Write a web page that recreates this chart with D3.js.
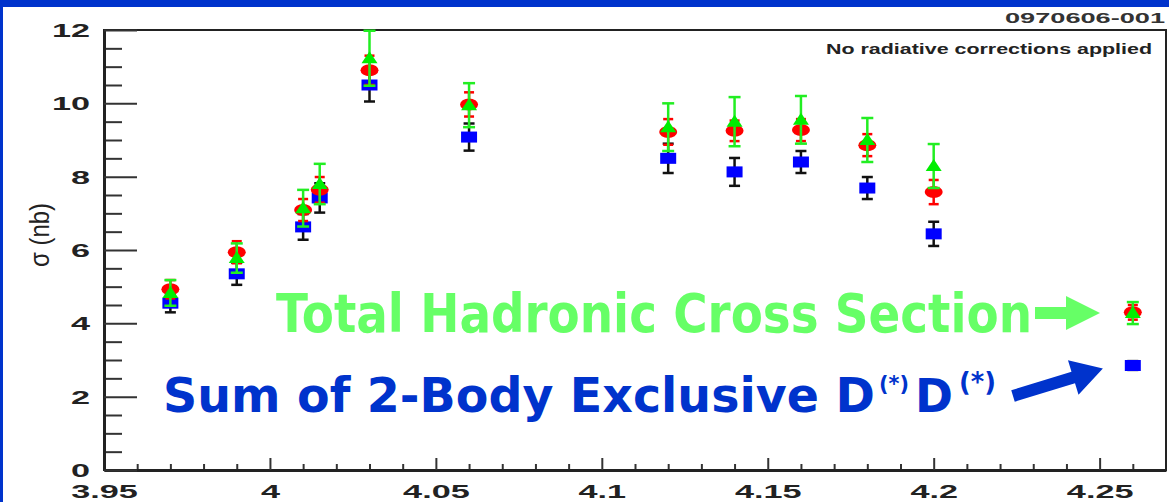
<!DOCTYPE html>
<html>
<head>
<meta charset="utf-8">
<script src="https://cdn.jsdelivr.net/npm/d3@7"></script>
<style>
  body { margin: 0; background: #fff; }
  svg { display: block; }
</style>
</head>
<body>
<div class="visContainer"></div>
<script>
// Data.
const energies = [3.97, 3.99, 4.01, 4.015, 4.03, 4.06, 4.12, 4.14, 4.16, 4.18, 4.2, 4.26];
const totalHadronic = [4.83, 5.78, 7.14, 7.8, 11.23, 9.95, 9.35, 9.5, 9.55, 9.0, 8.29, 4.28];
const totalErr = [0.35, 0.4, 0.5, 0.55, 0.75, 0.6, 0.65, 0.67, 0.65, 0.6, 0.6, 0.3];
const redValues = [4.93, 5.94, 7.09, 7.64, 10.9, 9.97, 9.22, 9.25, 9.27, 8.86, 7.58, 4.3];
const redErr = [0.25, 0.3, 0.3, 0.35, 0.4, 0.33, 0.35, 0.28, 0.3, 0.3, 0.33, 0.2];
const exclusiveSum = [4.55, 5.35, 6.63, 7.42, 10.5, 9.08, 8.5, 8.13, 8.4, 7.69, 6.44, 2.85];
const exclusiveErr = [0.25, 0.3, 0.35, 0.4, 0.45, 0.37, 0.4, 0.38, 0.3, 0.3, 0.33, 0.12];

const xTicks = [3.95, 4, 4.05, 4.1, 4.15, 4.2, 4.25];
const xTickLabels = ['3.95', '4', '4.05', '4.1', '4.15', '4.2', '4.25'];
const yTicks = [0, 2, 4, 6, 8, 10, 12];

// SVG constants.
const width = 1169;
const height = 502;
const plotLeft = 104, plotRight = 1166, plotTop = 30, plotBottom = 470;

const xScale = d3.scaleLinear().domain([3.95, 4.27]).range([plotLeft, plotRight]);
const yScale = d3.scaleLinear().domain([0, 12]).range([plotBottom, plotTop]);

const svg = d3.select('.visContainer')
              .append('svg')
              .attr('width', width)
              .attr('height', height);

// Blue slide border.
svg.append('rect').attr('width', width).attr('height', height).attr('fill', '#0033cc');
svg.append('rect').attr('x', 3).attr('y', 7).attr('width', width - 3).attr('height', height - 7).attr('fill', '#fff');

// Frame.
svg.append('rect')
   .attr('x', plotLeft).attr('y', plotTop)
   .attr('width', plotRight - plotLeft).attr('height', plotBottom - plotTop)
   .attr('fill', 'none').attr('stroke', '#222').attr('stroke-width', 2);

// Minor ticks.
const xMinor = d3.range(3.96, 4.27, 0.01).filter(v => !xTicks.some(t => Math.abs(t - v) < 1e-6));
const yMinor = d3.range(0.5, 12, 0.5).filter(v => v % 2 !== 0);

svg.append('g')
   .attr('transform', 'translate(0,' + plotBottom + ')')
   .call(d3.axisBottom(xScale).tickValues(xMinor).tickSize(-6).tickFormat('').tickSizeOuter(0))
   .call(g => g.select('.domain').remove())
   .selectAll('line').attr('stroke', '#333').attr('stroke-width', 2);

svg.append('g')
   .attr('transform', 'translate(' + plotLeft + ',0)')
   .call(d3.axisLeft(yScale).tickValues(yMinor).tickSize(-18).tickFormat('').tickSizeOuter(0))
   .call(g => g.select('.domain').remove())
   .selectAll('line').attr('stroke', '#333').attr('stroke-width', 2);

// Major axes.
const xAxis = svg.append('g')
   .attr('id', 'x-axis')
   .attr('transform', 'translate(0,' + plotBottom + ')')
   .call(d3.axisBottom(xScale).tickValues(xTicks).tickSize(-12).tickPadding(15).tickSizeOuter(0)
           .tickFormat((d, i) => xTickLabels[i]));

const yAxis = svg.append('g')
   .attr('id', 'y-axis')
   .attr('transform', 'translate(' + plotLeft + ',0)')
   .call(d3.axisLeft(yScale).tickValues(yTicks).tickSize(-33).tickPadding(14).tickSizeOuter(0)
           .tickFormat(d3.format('d')));

[xAxis, yAxis].forEach(g => {
  g.select('.domain').attr('stroke', '#222').attr('stroke-width', 3);
  g.selectAll('line').attr('stroke', '#333').attr('stroke-width', 2);
  g.selectAll('text')
   .attr('font-family', 'Liberation Sans, Arial, sans-serif')
   .attr('font-weight', 'bold')
   .attr('font-size', 18)
   .attr('fill', '#222')
   .each(function() {
     const w = this.getComputedTextLength();
     d3.select(this).attr('textLength', w * 1.9).attr('lengthAdjust', 'spacingAndGlyphs');
   });
});
yAxis.selectAll('text').attr('dy', '0.36em');

// Y axis title.
svg.append('text')
   .attr('transform', 'translate(49,235) rotate(-90)')
   .attr('text-anchor', 'middle')
   .attr('font-family', 'Liberation Sans, Arial, sans-serif')
   .attr('font-size', 28)
   .attr('fill', '#222')
   .attr('textLength', 64)
   .attr('lengthAdjust', 'spacingAndGlyphs')
   .text('σ (nb)');

// Corner labels.
svg.append('text')
   .attr('x', 1165).attr('y', 23)
   .attr('text-anchor', 'end')
   .attr('font-family', 'Liberation Sans, Arial, sans-serif')
   .attr('font-weight', 'bold').attr('font-size', 15).attr('fill', '#333')
   .attr('textLength', 160).attr('lengthAdjust', 'spacingAndGlyphs')
   .text('0970606-001');

svg.append('text')
   .attr('x', 1152).attr('y', 54)
   .attr('text-anchor', 'end')
   .attr('font-family', 'Liberation Sans, Arial, sans-serif')
   .attr('font-weight', 'bold').attr('font-size', 14).attr('fill', '#222')
   .attr('textLength', 326).attr('lengthAdjust', 'spacingAndGlyphs')
   .text('No radiative corrections applied');

// Points.
const points = energies.map((e, i) => ({
  e: e,
  tot: totalHadronic[i], totE: totalErr[i],
  red: redValues[i], redE: redErr[i],
  exc: exclusiveSum[i], excE: exclusiveErr[i]
}));

function errorBars(key, errKey, color, cap, sw) {
  const g = svg.append('g').attr('stroke', color).attr('stroke-width', sw);
  g.selectAll('line.v').data(points).enter().append('line')
   .attr('x1', d => xScale(d.e)).attr('x2', d => xScale(d.e))
   .attr('y1', d => yScale(Math.min(12, d[key] + d[errKey])))
   .attr('y2', d => yScale(d[key] - d[errKey]));
  [1, -1].forEach(s => {
    g.selectAll('line.c' + s).data(points.filter(d => d[key] + s * d[errKey] <= 12)).enter().append('line')
     .attr('x1', d => xScale(d.e) - cap / 2).attr('x2', d => xScale(d.e) + cap / 2)
     .attr('y1', d => yScale(d[key] + s * d[errKey]))
     .attr('y2', d => yScale(d[key] + s * d[errKey]));
  });
}

// Exclusive sum: blue squares with black bars.
errorBars('exc', 'excE', '#111', 11, 2.5);
svg.append('g').selectAll('rect').data(points).enter().append('rect')
   .attr('x', d => xScale(d.e) - 8).attr('y', d => yScale(d.exc) - 5.5)
   .attr('width', 16).attr('height', 11)
   .attr('fill', '#0000ff');

// Red circles.
errorBars('red', 'redE', '#ff0000', 10, 2.5);
svg.append('g').selectAll('ellipse').data(points).enter().append('ellipse')
   .attr('cx', d => xScale(d.e)).attr('cy', d => yScale(d.red))
   .attr('rx', 9).attr('ry', 6)
   .attr('fill', '#ff0000');

// Total hadronic: green triangles.
errorBars('tot', 'totE', '#22ee22', 12, 2.5);
svg.append('g').selectAll('path').data(points).enter().append('path')
   .attr('transform', d => 'translate(' + xScale(d.e) + ',' + yScale(d.tot) + ')')
   .attr('d', 'M0,-7L8,5L-8,5Z')
   .attr('fill', '#00ee00');

// Annotations.
const comic = "'Comic Sans MS', 'DejaVu Sans', sans-serif";

svg.append('text')
   .attr('x', 276).attr('y', 332)
   .attr('font-family', comic).attr('font-weight', 'bold').attr('font-size', 53)
   .attr('fill', '#66ff66')
   .attr('textLength', 756).attr('lengthAdjust', 'spacingAndGlyphs')
   .text('Total Hadronic Cross Section');

svg.append('path')
   .attr('d', 'M1035,307L1066,307L1066,296L1100,313L1066,330L1066,319L1035,319Z')
   .attr('fill', '#66ff66');

// Blue label: pieces sized so that their natural width fits the space.
const blueParts = [
  {t: 'Sum of 2-Body Exclusive D', x: 163, y: 412, size: 51, len: 712},
  {t: '(*)', x: 879, y: 391, size: 24, len: 30},
  {t: 'D', x: 915, y: 412, size: 51, len: 38},
  {t: '(*)', x: 959, y: 391, size: 24, len: 37}
];
svg.append('text')
   .attr('font-family', comic).attr('font-weight', 'bold')
   .attr('fill', '#0033cc')
   .selectAll('tspan').data(blueParts).enter().append('tspan')
   .attr('x', d => d.x).attr('y', d => d.y)
   .attr('font-size', d => d.size)
   .text(d => d.t)
   .each(function(d) {
     const w = this.getComputedTextLength();
     d3.select(this).attr('font-size', d.size * d.len / w);
   });

svg.append('path')
   .attr('transform', 'translate(1013,396) rotate(-17)')
   .attr('d', 'M0,-6L63,-6L63,-18L94,0L63,18L63,6L0,6Z')
   .attr('fill', '#0033cc');
</script>
</body>
</html>
